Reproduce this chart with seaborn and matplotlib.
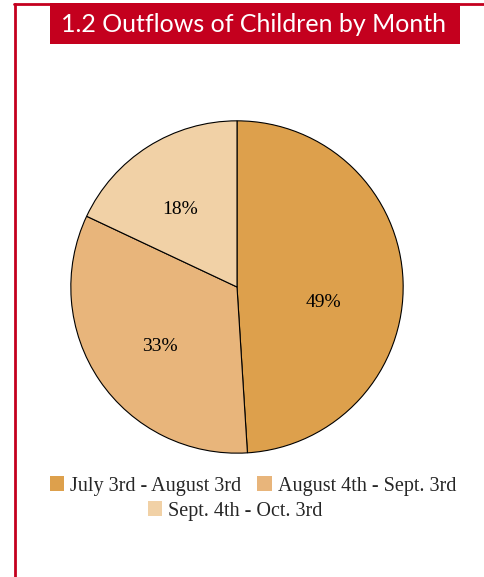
import matplotlib
matplotlib.use("Agg")
import matplotlib.pyplot as plt
import seaborn as sns
from matplotlib.patches import Rectangle, Patch
from matplotlib.lines import Line2D

sns.set_theme(style="white")
plt.rcParams['font.family'] = ['Liberation Serif', 'DejaVu Serif']

# Share of child outflows by period
periods = ["July 3rd - August 3rd", "August 4th - Sept. 3rd", "Sept. 4th - Oct. 3rd"]
shares = [49, 33, 18]
colors = ["#DDA04C", "#E8B57B", "#F1D1A6"]

title = "1.2 Outflows of Children by Month"
red = "#C4001E"

fig = plt.figure(figsize=(4.85, 5.77), dpi=100)
fig.patch.set_facecolor("white")

# Frame lines along the top and left edges
fig.add_artist(Line2D([14 / 485, 1.0], [1 - 4 / 577] * 2, color=red, lw=2.0,
                      transform=fig.transFigure))
fig.add_artist(Line2D([15 / 485] * 2, [0.0, 1 - 4 / 577], color=red, lw=2.0,
                      transform=fig.transFigure))

# Title banner
fig.add_artist(Rectangle((50 / 485, 1 - 44 / 577), 410 / 485, 41 / 577,
                         facecolor=red, edgecolor="none",
                         transform=fig.transFigure))
fig.text(254 / 485, 1 - 24 / 577, title, color="white", fontsize=18,
         family=["Lato", "DejaVu Sans"], ha="center", va="center")

# Pie
ax = fig.add_axes([(237 - 167) / 485, 1 - (287 + 167) / 577, 334 / 485, 334 / 577])
wedges, texts, autotexts = ax.pie(
    shares, colors=colors, startangle=90, counterclock=False,
    autopct=lambda p: f"{p:.0f}%", pctdistance=0.55,
    wedgeprops=dict(edgecolor="black", linewidth=0.8),
    textprops=dict(fontsize=14, color="black"),
)
# Small nudges so the percentages sit a little lower in their wedges
label_shift = [(-0.03, -0.11), (-0.01, -0.05), (-0.05, 0.0)]
for t, (dx, dy) in zip(autotexts, label_shift):
    x, y = t.get_position()
    t.set_position((x + dx, y + dy))
ax.set_xlim(-1.005, 1.005)
ax.set_ylim(-1.005, 1.005)
ax.set_aspect("equal")
ax.axis("off")

# Legend: two items on the first row, the third centred beneath
handles = [Patch(facecolor=c, edgecolor="none") for c in colors]
fig.legend(handles[:2], periods[:2], ncol=2, loc="center",
           bbox_to_anchor=(253 / 485, 1 - 486 / 577), frameon=False,
           fontsize=14.5, handlelength=0.7, handleheight=0.7,
           handletextpad=0.3, columnspacing=0.8)
fig.legend(handles[2:], periods[2:], loc="center",
           bbox_to_anchor=(235 / 485, 1 - 511 / 577), frameon=False,
           fontsize=14.5, handlelength=0.7, handleheight=0.7,
           handletextpad=0.3)

fig.savefig("out.png", dpi=100, facecolor="white")
